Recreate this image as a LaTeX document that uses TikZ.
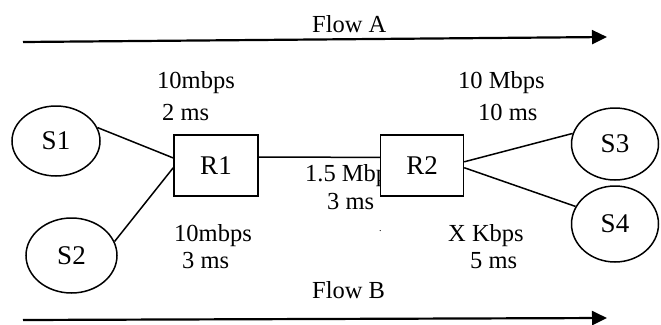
\documentclass[tikz,border=0pt]{standalone}
\usepackage{fontspec}
\setmainfont{Liberation Serif}
\usetikzlibrary{shapes.geometric,arrows.meta}
\begin{document}
\begin{tikzpicture}[x=1pt,y=-1pt,
  lbl/.style={anchor=base west,inner sep=0pt,font=\fontsize{24.5}{28}\selectfont},
  host/.style={ellipse,draw,line width=1.5pt,inner sep=0pt,font=\fontsize{27}{30}\selectfont},
  router/.style={rectangle,draw,fill=white,line width=1.5pt,inner sep=0pt,font=\fontsize{27}{30}\selectfont},
  link/.style={line width=1.5pt},
  flow/.style={line width=2.2pt,-{Triangle[length=15pt,width=14pt]}}]
\useasboundingbox (0,0) rectangle (661,324);

% flows
\coordinate (a1) at (23,42);
\coordinate (a2) at (607,37);
\draw[flow] (a1) -- (a2);
\node[lbl] (flowA) at (312,32) {Flow A};
\coordinate (b1) at (23,320);
\coordinate (b2) at (607,318);
\draw[flow] (b1) -- (b2);
\node[lbl] (flowB) at (312,298) {Flow B};

% labels
\node[lbl] (l1a) at (157,88) {10mbps};
\node[lbl] (l1b) at (162,120) {2 ms};
\node[lbl] (l2a) at (458,88) {10 Mbps};
\node[lbl] (l2b) at (478,120) {10 ms};
\node[lbl] (l3a) at (174,241.5) {10mbps};
\node[lbl] (l3b) at (182,268) {3 ms};
\node[lbl] (l4a) at (448,241.5) {X Kbps};
\node[lbl] (l4b) at (470,268) {5 ms};
\node[lbl] (l5a) at (305,181) {1.5 Mbps};
\node[lbl] (l5b) at (327,209.5) {3 ms};
\node[lbl,font=\fontsize{10}{12}\selectfont] (dot) at (379,231) {.};

% nodes
\node[host,minimum width=88pt,minimum height=70pt] (S1) at (56,141) {S1};
\node[host,minimum width=91pt,minimum height=75pt] (S2) at (71.5,255.5) {S2};
\node[host,minimum width=87pt,minimum height=72pt] (S3) at (615,144) {S3};
\node[host,minimum width=87pt,minimum height=76pt] (S4) at (615,224) {S4};
\node[router,minimum width=84pt,minimum height=61pt] (R1) at (216,165.5) {R1};
\node[router,minimum width=83pt,minimum height=61pt] (R2) at (422,165.5) {R2};

% links
\draw[link] (S1.18) -- (R1.170);
\draw[link] (S2.18) -- (R1.183);
\draw[link] (R1.11) -- (R2.169);
\draw[link] (R2.5) -- (S3.166);
\draw[link] (R2.-3) -- (S4.156);
\end{tikzpicture}
\end{document}
